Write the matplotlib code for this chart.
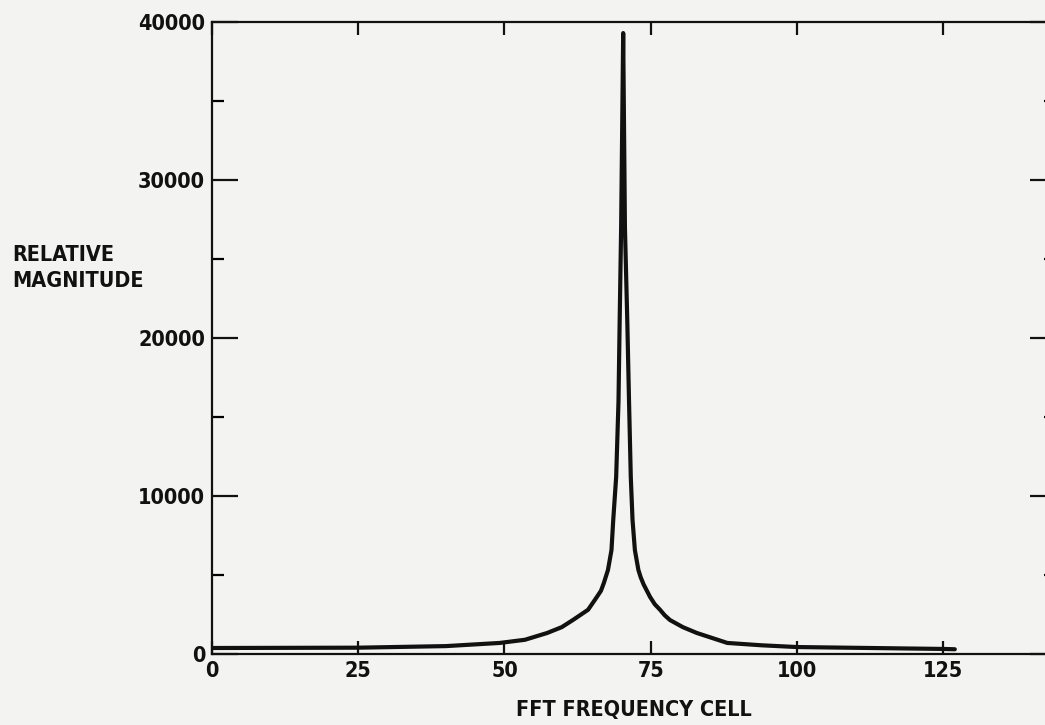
import matplotlib.pyplot as plt
from matplotlib.ticker import MultipleLocator

# FFT spectrum (cell, relative magnitude)
cell = [0, 25, 40, 49.2, 53.5, 57.3, 59.8, 61.7, 62.9, 64.3, 65.8, 66.5, 67.0, 67.7, 68.3,
        68.6, 69.1, 69.5, 69.7, 69.95, 70.3, 70.6, 71.0, 71.3, 71.6, 71.9, 72.3, 72.9, 73.3,
        73.8, 74.9, 75.7, 76.6, 77.4, 78.3, 80.5, 82.9, 88.1, 94, 100, 125, 127]
mag = [380, 400, 500, 700, 900, 1330, 1700, 2150, 2450, 2800, 3610, 4000, 4500, 5320, 6580,
       8480, 11200, 16000, 21100, 27000, 39300, 27000, 21100, 16000, 11200, 8480, 6580, 5320,
       4850, 4400, 3610, 3150, 2800, 2450, 2150, 1700, 1330, 700, 550, 440, 320, 300]

xticks = [0, 25, 50, 75, 100, 125]
yticks = [0, 10000, 20000, 30000, 40000]

plt.rcParams['font.family'] = ['DejaVu Sans']
plt.rcParams['font.stretch'] = 'condensed'
plt.rcParams['font.weight'] = 'bold'
plt.rcParams['axes.labelweight'] = 'bold'

ink = '#111111'
paper = '#f3f3f1'

fig = plt.figure(figsize=(10.45, 7.25), dpi=100, facecolor=paper)
ax = fig.add_axes([212 / 1045, 71 / 725, 844 / 1045, 632 / 725])
ax.set_facecolor(paper)

ax.plot(cell, mag, color=ink, lw=3, solid_joinstyle='round', solid_capstyle='round')

ax.set_xlim(0, 144.3)
ax.set_ylim(0, 40000)
ax.set_xticks(xticks)
ax.set_yticks(yticks)
ax.set_xticklabels([str(t) for t in xticks])
ax.set_yticklabels([str(t) for t in yticks])
ax.yaxis.set_minor_locator(MultipleLocator(5000))

for s in ax.spines.values():
    s.set_linewidth(1.6)
    s.set_color(ink)

ax.tick_params(axis='x', which='major', direction='in', top=True, bottom=True,
               length=9.5, width=1.6, pad=5, labelsize=15.5, colors=ink)
ax.tick_params(axis='y', which='major', direction='in', left=True, right=True,
               length=19, width=1.6, pad=5, labelsize=15.5, colors=ink)
ax.tick_params(axis='y', which='minor', direction='in', left=True, right=True,
               length=8.5, width=1.6)

ax.set_xlabel('FFT FREQUENCY CELL', fontsize=15.5, color=ink, labelpad=14)
ax.set_ylabel('RELATIVE\nMAGNITUDE', fontsize=15.5, color=ink, rotation=0,
              ha='left', va='center', multialignment='left', linespacing=1.35)
ax.yaxis.set_label_coords(-0.237, 0.611)

fig.savefig('out.png', dpi=100, facecolor=fig.get_facecolor())
